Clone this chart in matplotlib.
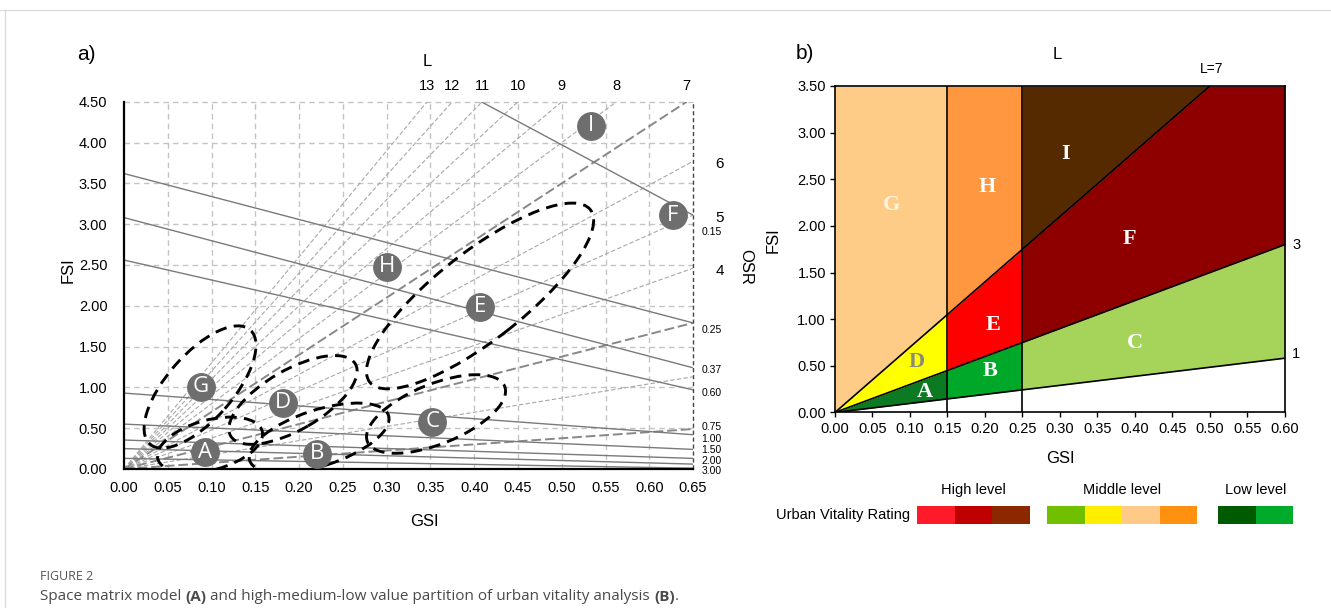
import numpy as np
import matplotlib
matplotlib.use("Agg")
import matplotlib.pyplot as plt
from matplotlib.patches import Ellipse, Rectangle
from matplotlib.lines import Line2D
from matplotlib.transforms import ScaledTranslation

plt.rcParams['font.family'] = ['Liberation Sans', 'DejaVu Sans']

# ---------------- panel a: space matrix ----------------
gsi_a = np.arange(0, 0.651, 0.05)
fsi_a = np.arange(0, 4.51, 0.5)

L_top = [13, 12, 11, 10, 9, 8, 7]                 # L lines reaching FSI = 4.5
L_right_fsi = [3.77, 3.11, 2.46, 1.79, 1.13, 0.49]  # FSI where lower L lines hit GSI = 0.65
L_right_names = ['6', '5', '4', '', '', '']

# OSR lines: start point and FSI at GSI = 0.65
osr_start = [(0.408, 4.5), (0, 3.62), (0, 3.08), (0, 2.56), (0, 0.93),
             (0, 0.55), (0, 0.355), (0, 0.25), (0, 0.13)]
osr_end = [3.11, 1.79, 1.24, 0.97, 0.42, 0.24, 0.13, 0.06, 0.01]
osr_names = ['0.15', '0.25', '0.37', '0.60', '0.75', '1.00', '1.50', '2.00', '3.00']
osr_name_fsi = [2.90, 1.70, 1.21, 0.935, 0.51, 0.37, 0.233, 0.098, -0.025]

# clusters: centre (GSI, FSI), width, height (px), angle
clusters = ['G', 'A', 'D', 'B', 'C', 'E']
cl_gsi = [0.0868, 0.0982, 0.193, 0.2228, 0.3564, 0.4067]
cl_fsi = [1.005, 0.294, 0.846, 0.380, 0.674, 2.12]
cl_w = [152, 108, 144, 146, 148, 280]
cl_h = [66, 50, 60, 56, 60, 88]
cl_ang = [48.7, 15, 30, 18, 22, 38]

types = ['G', 'A', 'D', 'B', 'C', 'H', 'E', 'I', 'F']
type_gsi = [0.0876, 0.0925, 0.1816, 0.2201, 0.352, 0.3001, 0.4067, 0.533, 0.627]
type_fsi = [1.009, 0.208, 0.812, 0.184, 0.576, 2.475, 1.985, 4.203, 3.11]

# ---------------- panel b: vitality partition ----------------
b_breaks = [0, 0.15, 0.25, 0.6]
low_slope, mid_slope, high_slope = 0.97, 3, 7
fsi_max_b = 3.5
zone_colors = {'A': '#0b7a22', 'B': '#00a829', 'C': '#a6d45a',
               'D': '#ffff00', 'E': '#ff0000', 'F': '#8e0000',
               'G': '#ffcc88', 'H': '#ff9640', 'I': '#552a00'}
zone_gsi = {'G': 0.076, 'H': 0.203, 'I': 0.308, 'F': 0.393, 'E': 0.211,
            'D': 0.109, 'B': 0.207, 'A': 0.12, 'C': 0.40}
zone_fsi = {'G': 2.22, 'H': 2.42, 'I': 2.77, 'F': 1.86, 'E': 0.94,
            'D': 0.54, 'B': 0.44, 'A': 0.22, 'C': 0.75}

legend_groups = ['High level', 'Middle level', 'Low level']
legend_colors = [['#ff1a2a', '#be0000', '#8c2800'],
                 ['#70c000', '#ffee00', '#ffca88', '#ff9010'],
                 ['#005a00', '#00aa2a']]

fig = plt.figure(figsize=(13.31, 6.15), dpi=100)

# ---------- panel a ----------
ax = fig.add_axes([0.0932, 0.2374, 0.4275, 0.5972])
ax.set_xlim(0, 0.65)
ax.set_ylim(0, 4.5)
for g in gsi_a[1:-1]:
    ax.plot([g, g], [0, 4.5], color='#c4c4c4', lw=1, ls=(0, (4, 3)), zorder=0)
for f in fsi_a[1:]:
    ax.plot([0, 0.65], [f, f], color='#c4c4c4', lw=1, ls=(0, (4, 3)), zorder=0, clip_on=False)
ax.plot([0.65, 0.65], [0, 4.5], color='#444444', lw=1, ls=(0, (3, 2)), clip_on=False)

for L in L_top:
    xe = 4.5 / L
    dark = L == 7
    ax.plot([0, xe], [0, L * xe], color='#888888' if dark else '#a8a8a8',
            lw=1.4 if dark else 0.8, ls=(0, (5, 2)) if dark else (0, (4, 2)))
    ax.text(xe, 4.69, str(L), ha='center', va='center', fontsize=10.5, clip_on=False)
ax.text(4.5 / 13, 4.99, 'L', ha='center', va='center', fontsize=12)

for f, name in zip(L_right_fsi, L_right_names):
    dark = f in (1.79, 0.49)
    ax.plot([0, 0.65], [0, f], color='#888888' if dark else '#a8a8a8',
            lw=1.4 if dark else 0.8, ls=(0, (5, 2)) if dark else (0, (4, 2)))
    if name:
        ax.annotate(name, (0.65, f - 0.03), xytext=(19, 0), textcoords='offset points',
                    ha='center', va='center', fontsize=11)

for (x0, y0), y1 in zip(osr_start, osr_end):
    ax.plot([x0, 0.65], [y0, y1], color='#7a7a7a', lw=1.0)
for name, f in zip(osr_names, osr_name_fsi):
    ax.annotate(name, (0.65, f), xytext=(6, 0), textcoords='offset points',
                ha='left', va='center', fontsize=7.5, annotation_clip=False)

for cx, cy, w, h, a in zip(cl_gsi, cl_fsi, cl_w, cl_h, cl_ang):
    tr = fig.dpi_scale_trans + ScaledTranslation(cx, cy, ax.transData)
    ax.add_patch(Ellipse((0, 0), w / 100, h / 100, angle=a, transform=tr,
                         fill=False, ec='black', lw=2.1, ls=(0, (4, 2.5)), zorder=4))

ax.scatter(type_gsi, type_fsi, s=390, color='#6e6e6e', zorder=5, clip_on=False)
for t, x, y in zip(types, type_gsi, type_fsi):
    ax.text(x, y, t, ha='center', va='center', color='white', fontsize=16,
            family=['Open Sans', 'DejaVu Sans'], zorder=6)

for s in ['top', 'right']:
    ax.spines[s].set_visible(False)
for s in ['left', 'bottom']:
    ax.spines[s].set_linewidth(1.6)
ax.set_xticks(gsi_a)
ax.set_xticklabels(['%.2f' % v for v in gsi_a], fontsize=10.5)
ax.set_yticks(fsi_a)
ax.set_yticklabels(['%.2f' % v for v in fsi_a], fontsize=10.5)
ax.tick_params(axis='x', length=0, pad=9)
ax.tick_params(axis='y', length=0, pad=12)

fig.text(0.0651, 0.9106, 'a)', fontsize=15, ha='center', va='center')
fig.text(0.0511, 0.561, 'FSI', fontsize=12, rotation=90, ha='center', va='center')
fig.text(0.3186, 0.1528, 'GSI', fontsize=12, ha='center', va='center')
fig.text(0.5605, 0.566, 'OSR', fontsize=12, rotation=-90, ha='center', va='center')

# ---------- panel b ----------
bx = fig.add_axes([0.6273, 0.3293, 0.3381, 0.5309])
bx.set_xlim(0, 0.6)
bx.set_ylim(0, fsi_max_b)

bands = [('A', 'D', 'G'), ('B', 'E', 'H'), ('C', 'F', 'I')]
for (x0, x1), (lo, mid, hi) in zip(zip(b_breaks[:-1], b_breaks[1:]), bands):
    xs = np.linspace(x0, x1, 200)
    y_low = low_slope * xs
    y_mid = np.minimum(mid_slope * xs, fsi_max_b)
    y_high = np.minimum(high_slope * xs, fsi_max_b)
    bx.fill_between(xs, y_low, y_mid, color=zone_colors[lo], lw=0)
    bx.fill_between(xs, y_mid, y_high, color=zone_colors[mid], lw=0)
    bx.fill_between(xs, y_high, fsi_max_b, color=zone_colors[hi], lw=0)

for sl in (low_slope, mid_slope, high_slope):
    xe = min(0.6, fsi_max_b / sl)
    bx.plot([0, xe], [0, sl * xe], color='black', lw=1.2)
for xb in b_breaks[1:3]:
    bx.plot([xb, xb], [0, fsi_max_b], color='black', lw=1.2)

for z in zone_colors:
    bx.text(zone_gsi[z], zone_fsi[z], z, ha='center', va='center', fontsize=16,
            fontweight='bold', family=['Liberation Serif', 'DejaVu Serif'],
            color='#8a8a7a' if z == 'D' else ('#fff4e0' if z == 'G' else 'white'))

bx.annotate('L=7', (fsi_max_b / high_slope, fsi_max_b), xytext=(1, 12),
            textcoords='offset points', ha='center', va='center', fontsize=10,
            annotation_clip=False)
bx.annotate('3', (0.6, 0.6 * mid_slope), xytext=(8, 0), textcoords='offset points',
            ha='center', va='center', fontsize=10.5, annotation_clip=False)
bx.annotate('1', (0.6, 0.6 * low_slope), xytext=(8, 3), textcoords='offset points',
            ha='center', va='center', fontsize=10.5, annotation_clip=False)

for s in bx.spines.values():
    s.set_linewidth(1.2)
bx.set_xticks(np.arange(0, 0.601, 0.05))
bx.set_xticklabels(['%.2f' % v for v in np.arange(0, 0.601, 0.05)], fontsize=10.5)
bx.set_yticks(np.arange(0, 3.51, 0.5))
bx.set_yticklabels(['%.2f' % v for v in np.arange(0, 3.51, 0.5)], fontsize=10.5)
bx.tick_params(direction='out', length=3.5, width=1, pad=3)

fig.text(0.6048, 0.9138, 'b)', fontsize=15, ha='center', va='center')
fig.text(0.7941, 0.9106, 'L', fontsize=12, ha='center', va='center')
fig.text(0.5808, 0.6098, 'FSI', fontsize=12, rotation=90, ha='center', va='center')
fig.text(0.7964, 0.2537, 'GSI', fontsize=12, ha='center', va='center')

# legend
cell_w, cell_h = 37.5 / 1331, 18 / 615
group_x = [917 / 1331, 1047 / 1331, 1218 / 1331]
leg_y = 1 - 524 / 615
for name, gx, cols in zip(legend_groups, group_x, legend_colors):
    for i, c in enumerate(cols):
        fig.add_artist(Rectangle((gx + i * cell_w, leg_y), cell_w, cell_h,
                                 transform=fig.transFigure, color=c, lw=0))
    fig.text(gx + len(cols) * cell_w / 2, 1 - 490 / 615, name, fontsize=10.5,
             ha='center', va='center')
fig.text(910 / 1331, 1 - 515 / 615, 'Urban Vitality Rating', fontsize=10.5,
         ha='right', va='center')

# frame lines and caption
fig.add_artist(Line2D([0, 1], [1 - 10 / 615] * 2, color='#dddddd', lw=1))
fig.add_artist(Line2D([5 / 1331] * 2, [1 - 10 / 615, 8 / 615], color='#dddddd', lw=1))
fig.text(40 / 1331, 1 - 577 / 615, 'FIGURE 2', fontsize=9, color='#555555',
         family=['Open Sans', 'DejaVu Sans'], ha='left', va='center')

pieces = [('Space matrix model ', 'normal'), ('(A)', 'bold'),
          (' and high-medium-low value partition of urban vitality analysis ', 'normal'),
          ('(B)', 'bold'), ('.', 'normal')]
renderer = fig.canvas.get_renderer()
xpix = 40
for txt, wgt in pieces:
    t = fig.text(xpix / 1331, 1 - 597 / 615, txt, fontsize=11, color='#4a4a4a',
                 fontweight=wgt, family=['Open Sans', 'DejaVu Sans'],
                 ha='left', va='center')
    xpix += t.get_window_extent(renderer).width

fig.savefig('out.png', dpi=100)
